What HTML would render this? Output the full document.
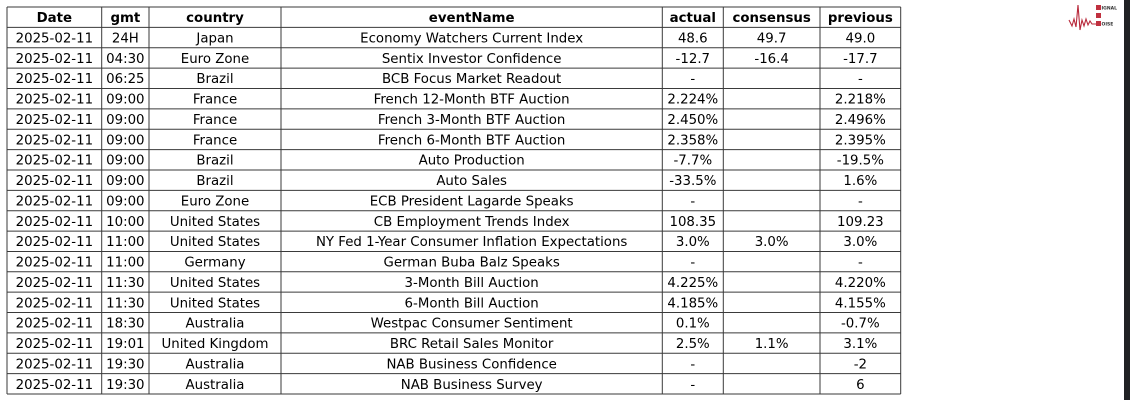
<!DOCTYPE html>
<html><head><meta charset="utf-8"><style>
html,body{margin:0;padding:0;background:#fff;}
body{width:1130px;height:400px;overflow:hidden;position:relative;}
svg{position:absolute;left:0;top:0;}
text{font-family:"DejaVu Sans","Liberation Sans",sans-serif;font-size:13.33px;fill:#000;}
.h{font-weight:bold;}
</style></head><body>
<svg width="1130" height="400" viewBox="0 0 1130 400" xmlns="http://www.w3.org/2000/svg">
<rect x="0" y="0" width="1130" height="400" fill="#fff"/>
<rect x="1124" y="0" width="6" height="400" fill="#202124"/>
<!-- logo -->
<g>
<polyline points="1069,20 1072,26 1074,19 1076,27 1078,5 1080,30 1082,20 1084,26 1086,19 1088,25 1090,21 1092,24 1096,24" fill="none" stroke="#b8283a" stroke-width="1.1"/>
<rect x="1096" y="5" width="5" height="5" fill="#c0303f"/>
<rect x="1096" y="13" width="5" height="5" fill="#c0303f"/>
<rect x="1096" y="21" width="5" height="5" fill="#c0303f"/>
<text x="1101.5" y="9.6" style="font-size:4.5px;font-weight:bold;fill:#333">IGNAL</text>
<text x="1101.5" y="25.6" style="font-size:4.5px;font-weight:bold;fill:#333">OISE</text>
</g>
<g id="tbl"></g>
</svg>
<script>
(function(){
var xs=[7,101.7,149,281,662.3,723.3,820,900.7];
var y0=7,rh=20.37,n=19;
var rows=[
["Date","gmt","country","eventName","actual","consensus","previous"],
["2025-02-11","24H","Japan","Economy Watchers Current Index","48.6","49.7","49.0"],
["2025-02-11","04:30","Euro Zone","Sentix Investor Confidence","-12.7","-16.4","-17.7"],
["2025-02-11","06:25","Brazil","BCB Focus Market Readout","-","","-"],
["2025-02-11","09:00","France","French 12-Month BTF Auction","2.224%","","2.218%"],
["2025-02-11","09:00","France","French 3-Month BTF Auction","2.450%","","2.496%"],
["2025-02-11","09:00","France","French 6-Month BTF Auction","2.358%","","2.395%"],
["2025-02-11","09:00","Brazil","Auto Production","-7.7%","","-19.5%"],
["2025-02-11","09:00","Brazil","Auto Sales","-33.5%","","1.6%"],
["2025-02-11","09:00","Euro Zone","ECB President Lagarde Speaks","-","","-"],
["2025-02-11","10:00","United States","CB Employment Trends Index","108.35","","109.23"],
["2025-02-11","11:00","United States","NY Fed 1-Year Consumer Inflation Expectations","3.0%","3.0%","3.0%"],
["2025-02-11","11:00","Germany","German Buba Balz Speaks","-","","-"],
["2025-02-11","11:30","United States","3-Month Bill Auction","4.225%","","4.220%"],
["2025-02-11","11:30","United States","6-Month Bill Auction","4.185%","","4.155%"],
["2025-02-11","18:30","Australia","Westpac Consumer Sentiment","0.1%","","-0.7%"],
["2025-02-11","19:01","United Kingdom","BRC Retail Sales Monitor","2.5%","1.1%","3.1%"],
["2025-02-11","19:30","Australia","NAB Business Confidence","-","","-2"],
["2025-02-11","19:30","Australia","NAB Business Survey","-","","6"]
];
var ns="http://www.w3.org/2000/svg";
var g=document.getElementById("tbl");
function el(t,a,txt){var e=document.createElementNS(ns,t);for(var k in a)e.setAttribute(k,a[k]);if(txt!==undefined)e.textContent=txt;g.appendChild(e);return e;}
for(var r=0;r<n;r++){
  for(var c=0;c<7;c++){
    var cx=(xs[c]+xs[c+1])/2;
    var ty=y0+r*rh+15.1;
    var a={x:cx,y:ty,"text-anchor":"middle"};
    if(r===0)a["class"]="h";
    el("text",a,rows[r][c]);
  }
}
for(var i=0;i<=n;i++){
  var y=y0+i*rh;
  el("line",{x1:xs[0],x2:xs[7],y1:y,y2:y,stroke:"#3a3a3a","stroke-width":"1"});
}
for(var j=0;j<xs.length;j++){
  el("line",{x1:xs[j],x2:xs[j],y1:y0,y2:y0+n*rh,stroke:"#3a3a3a","stroke-width":"1"});
}
})();
</script>
</body></html>
